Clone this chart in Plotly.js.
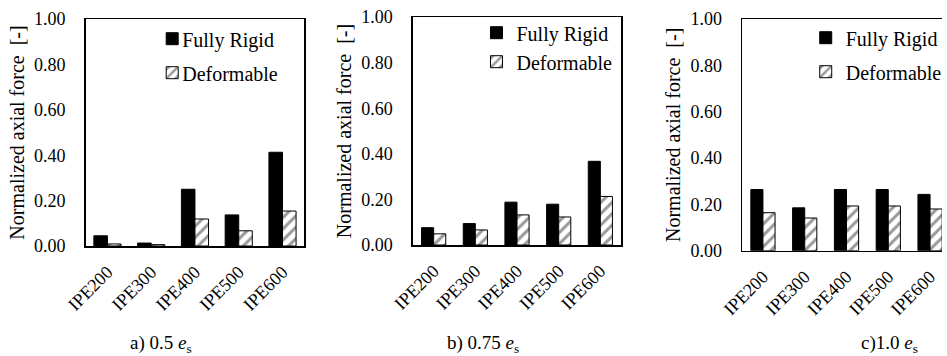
<!DOCTYPE html>
<html>
<head>
<meta charset="utf-8">
<script src="https://cdn.plot.ly/plotly-3.0.1.min.js"></script>
<style>
  html, body { margin: 0; padding: 0; background: #fff; }
  #chart { width: 947px; height: 356px; }
  /* pull legend labels in close to their swatches */
  #chart .legendtext { transform: translate(-10px, 0); }
</style>
</head>
<body>
<div id="chart"></div>
<script>
// Section sizes on the horizontal axis
const categories = ['IPE200', 'IPE300', 'IPE400', 'IPE500', 'IPE600'];

// Normalized axial force for each eccentricity case
const rigidA  = [0.045, 0.013, 0.250, 0.137, 0.413];
const deformA = [0.009, 0.006, 0.119, 0.067, 0.154];

const rigidB  = [0.076, 0.094, 0.188, 0.179, 0.367];
const deformB = [0.049, 0.066, 0.132, 0.123, 0.213];

const rigidC  = [0.264, 0.185, 0.264, 0.264, 0.243];
const deformC = [0.164, 0.141, 0.193, 0.193, 0.180];

const seriesNames = ['Fully Rigid', 'Deformable'];
const panelCaptions = ['a) 0.5 <i>e</i><sub>s</sub>', 'b) 0.75 <i>e</i><sub>s</sub>', 'c)1.0 <i>e</i><sub>s</sub>'];
const yTitle = 'Normalized axial force  [-]';
const yTicks = [0, 0.2, 0.4, 0.6, 0.8, 1.0];

const FONT = 'Liberation Serif';
const W = 947, H = 356;
const px = v => v / W;
const py = v => 1 - v / H;

const panels = [
  { rigid: rigidA, deform: deformA, xs: '', dom: [px(86), px(306)], ydom: [py(246), py(19)], bw: 0.31, range: [-0.5, 4.5], box: true,
    legend: { x: px(153), y: py(19.2), gap: 5 }, cap: { x: 162 } },
  { rigid: rigidB, deform: deformB, xs: '2', dom: [px(415), px(624.5)], ydom: [py(245), py(17)], bw: 0.29, range: [-0.5, 4.5], box: true,
    legend: { x: px(479), y: py(13.2), gap: 0 }, cap: { x: 486 } },
  { rigid: rigidC, deform: deformC, xs: '3', dom: [px(746), 1], ydom: [py(250.7), py(19)], bw: 0.29, range: [-0.5, 4.5 - 9 / 42], box: false,
    legend: { x: px(810), y: py(18.2), gap: 5 }, cap: { x: 894 } }
];

const traces = [];
const layout = {
  width: W, height: H,
  margin: { l: 0, r: 0, t: 0, b: 0 },
  paper_bgcolor: '#fff', plot_bgcolor: '#fff',
  font: { family: FONT, size: 18, color: '#000' },
  barmode: 'overlay',
  showlegend: true,
  annotations: []
};

panels.forEach((p, i) => {
  const xa = 'x' + p.xs, ya = 'y' + p.xs;
  const lg = 'legend' + p.xs;
  traces.push({
    type: 'bar', name: seriesNames[0], x: categories, y: p.rigid,
    xaxis: xa, yaxis: ya, legend: lg, legendgroup: 'r' + i,
    width: p.bw, offset: -p.bw,
    marker: { color: '#000', line: { color: '#000', width: 1 } },
    hoverinfo: 'skip'
  });
  traces.push({
    type: 'bar', name: seriesNames[1], x: categories, y: p.deform,
    xaxis: xa, yaxis: ya, legend: lg, legendgroup: 'd' + i,
    width: p.bw, offset: 0,
    marker: {
      color: '#fff',
      line: { color: '#000', width: 1 },
      pattern: { shape: '/', fgcolor: '#9a9a9a', bgcolor: '#fff', size: 8, solidity: 0.38 }
    },
    hoverinfo: 'skip'
  });

  layout['xaxis' + p.xs] = {
    domain: p.dom, anchor: ya, type: 'category', range: p.range,
    showline: true, linecolor: '#000', linewidth: 1.5, mirror: true,
    ticks: 'outside', ticklen: 7, tickcolor: 'rgba(0,0,0,0)',
    tickangle: -45, tickfont: { family: FONT, size: 18, color: '#000' },
    showgrid: false, zeroline: false, fixedrange: true, automargin: false
  };
  layout['yaxis' + p.xs] = {
    domain: p.ydom, anchor: xa, range: [0, 1],
    tickvals: yTicks, tickformat: '.2f',
    showline: true, linecolor: '#000', linewidth: 1.5, mirror: p.box,
    ticks: 'outside', ticklen: 15, tickcolor: 'rgba(0,0,0,0)',
    tickfont: { family: FONT, size: 18, color: '#000' },
    showgrid: false, zeroline: false, fixedrange: true, automargin: false,
    title: { text: yTitle, font: { family: FONT, size: 20, color: '#000' }, standoff: 4 }
  };
  layout[lg] = {
    x: p.legend.x, y: p.legend.y, xanchor: 'left', yanchor: 'top',
    bgcolor: 'rgba(0,0,0,0)', borderwidth: 0,
    font: { family: FONT, size: 20, color: '#000' },
    traceorder: 'grouped', tracegroupgap: p.legend.gap
  };
  layout.annotations.push({
    xref: 'paper', yref: 'paper', x: px(p.cap.x), y: py(344),
    xanchor: 'center', yanchor: 'middle', showarrow: false,
    text: panelCaptions[i], font: { family: FONT, size: 19, color: '#000' }
  });
});

Plotly.newPlot('chart', traces, layout, { staticPlot: true, displayModeBar: false });
</script>
</body>
</html>
